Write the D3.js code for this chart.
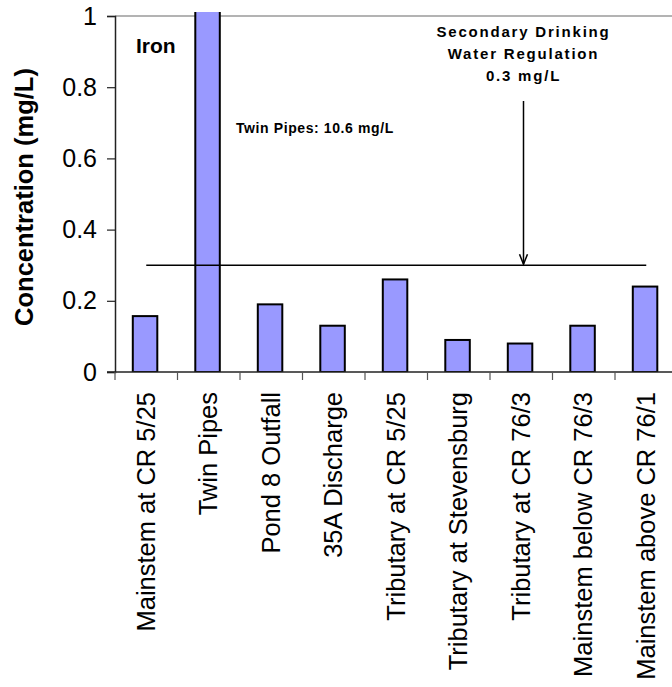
<!DOCTYPE html>
<html>
<head>
<meta charset="utf-8">
<script src="https://cdn.jsdelivr.net/npm/d3@7"></script>
<style>
  html, body { margin: 0; padding: 0; background: #fff; }
  svg { display: block; font-family: Arial, "Liberation Sans", sans-serif; }
</style>
</head>
<body>
<svg id="chart" width="672" height="687"></svg>
<script>
// Iron concentration by sampling site (mg/L)
const sites = [
  "Mainstem at CR 5/25",
  "Twin Pipes",
  "Pond 8 Outfall",
  "35A Discharge",
  "Tributary at CR 5/25",
  "Tributary at Stevensburg",
  "Tributary at CR 76/3",
  "Mainstem below CR 76/3",
  "Mainstem above CR 76/1"
];
const iron = [0.157, 10.6, 0.19, 0.13, 0.26, 0.09, 0.08, 0.13, 0.24];
const yTicks = [0, 0.2, 0.4, 0.6, 0.8, 1];
const yTickLabels = ["0", "0.2", "0.4", "0.6", "0.8", "1"];
const regulationLimit = 0.3;
const noteLines = ["Secondary Drinking", "Water Regulation", "0.3 mg/L"];
const twinPipesNote = "Twin Pipes: 10.6 mg/L";

const svg = d3.select("#chart");
const plotLeft = 115, plotTop = 16, plotBottom = 372;
const step = 62.5;

const x = d3.scaleBand()
  .domain(sites)
  .range([plotLeft, plotLeft + step * sites.length])
  .paddingInner(0)
  .paddingOuter(0);

const y = d3.scaleLinear().domain([0, 1]).range([plotBottom, plotTop]);

// clip so the off-scale bar stops just above the frame
svg.append("clipPath").attr("id", "plotClip")
  .append("rect")
  .attr("x", plotLeft).attr("y", plotTop - 4)
  .attr("width", 672 - plotLeft).attr("height", plotBottom - plotTop + 4);

// top frame line
svg.append("line")
  .attr("x1", plotLeft).attr("x2", 672)
  .attr("y1", plotTop).attr("y2", plotTop)
  .attr("stroke", "#9a9a9a").attr("stroke-width", 1.5);

// bars
const barW = 24.5;
svg.append("g").attr("clip-path", "url(#plotClip)")
  .selectAll("rect")
  .data(sites)
  .join("rect")
  .attr("x", d => x(d) + x.bandwidth() / 2 - barW / 2 - 1.2)
  .attr("y", (d, i) => y(iron[i]))
  .attr("width", barW)
  .attr("height", (d, i) => plotBottom - y(iron[i]))
  .attr("fill", "#9999ff")
  .attr("stroke", "#000")
  .attr("stroke-width", 2);

// regulation limit line
const firstC = x(sites[0]) + x.bandwidth() / 2;
const lastC = x(sites[sites.length - 1]) + x.bandwidth() / 2;
svg.append("line")
  .attr("x1", firstC).attr("x2", lastC)
  .attr("y1", y(regulationLimit)).attr("y2", y(regulationLimit))
  .attr("stroke", "#000").attr("stroke-width", 1.5);

// y axis
const yAxis = d3.axisLeft(y)
  .tickValues(yTicks)
  .tickFormat((d, i) => yTickLabels[i])
  .tickSize(8)
  .tickPadding(10);
const gy = svg.append("g").attr("transform", `translate(${plotLeft},0)`).call(yAxis);
gy.select(".domain").attr("stroke", "#222").attr("stroke-width", 1.5);
gy.selectAll(".tick line").attr("stroke", "#222").attr("stroke-width", 1.2);
gy.selectAll(".tick text")
  .attr("fill", "#000")
  .style("font-size", "25px")
  .style("font-family", "Arial, 'Liberation Sans', sans-serif");

// x axis
const xAxis = d3.axisBottom(x).tickSize(0).tickFormat("");
const gx = svg.append("g").attr("transform", `translate(0,${plotBottom})`).call(xAxis);
gx.select(".domain").remove();
svg.append("line")
  .attr("x1", plotLeft - 8).attr("x2", 672)
  .attr("y1", plotBottom).attr("y2", plotBottom)
  .attr("stroke", "#222").attr("stroke-width", 1.5);
const boundaries = sites.map(s => x(s));
svg.append("g").selectAll("line")
  .data(boundaries)
  .join("line")
  .attr("x1", d => d).attr("x2", d => d)
  .attr("y1", plotBottom).attr("y2", plotBottom + 8)
  .attr("stroke", "#555").attr("stroke-width", 1.2);

// category labels
svg.append("g").selectAll("text")
  .data(sites)
  .join("text")
  .attr("transform", d => `translate(${x(d) + x.bandwidth() / 2 + 8.5},392) rotate(-90)`)
  .attr("text-anchor", "end")
  .style("font-size", "25.5px")
  .attr("fill", "#000")
  .text(d => d);

// y axis title
svg.append("text")
  .attr("transform", "translate(33,197) rotate(-90)")
  .attr("text-anchor", "middle")
  .style("font-size", "25.5px")
  .style("font-weight", "bold")
  .text("Concentration (mg/L)");

// element label
svg.append("text")
  .attr("x", 136).attr("y", 53)
  .style("font-size", "21px")
  .style("font-weight", "bold")
  .text("Iron");

// off-scale value note
svg.append("text")
  .attr("x", 236).attr("y", 133)
  .style("font-size", "14px")
  .style("font-weight", "bold")
  .style("letter-spacing", "0.6px")
  .text(twinPipesNote);

// regulation note
const noteX = 523.5;
svg.append("g").selectAll("text")
  .data(noteLines)
  .join("text")
  .attr("x", noteX)
  .attr("y", (d, i) => 37 + i * 22)
  .attr("text-anchor", "middle")
  .style("font-size", "15px")
  .style("font-weight", "bold")
  .style("letter-spacing", "1.8px")
  .text(d => d);

// arrow pointing to the limit line
const tipY = y(regulationLimit) - 1;
svg.append("line")
  .attr("x1", noteX).attr("x2", noteX)
  .attr("y1", 101).attr("y2", tipY)
  .attr("stroke", "#000").attr("stroke-width", 1.5);
svg.append("path")
  .attr("d", `M${noteX - 4},${tipY - 10}L${noteX},${tipY}L${noteX + 4},${tipY - 10}`)
  .attr("fill", "none")
  .attr("stroke", "#000")
  .attr("stroke-width", 1.5);
</script>
</body>
</html>
